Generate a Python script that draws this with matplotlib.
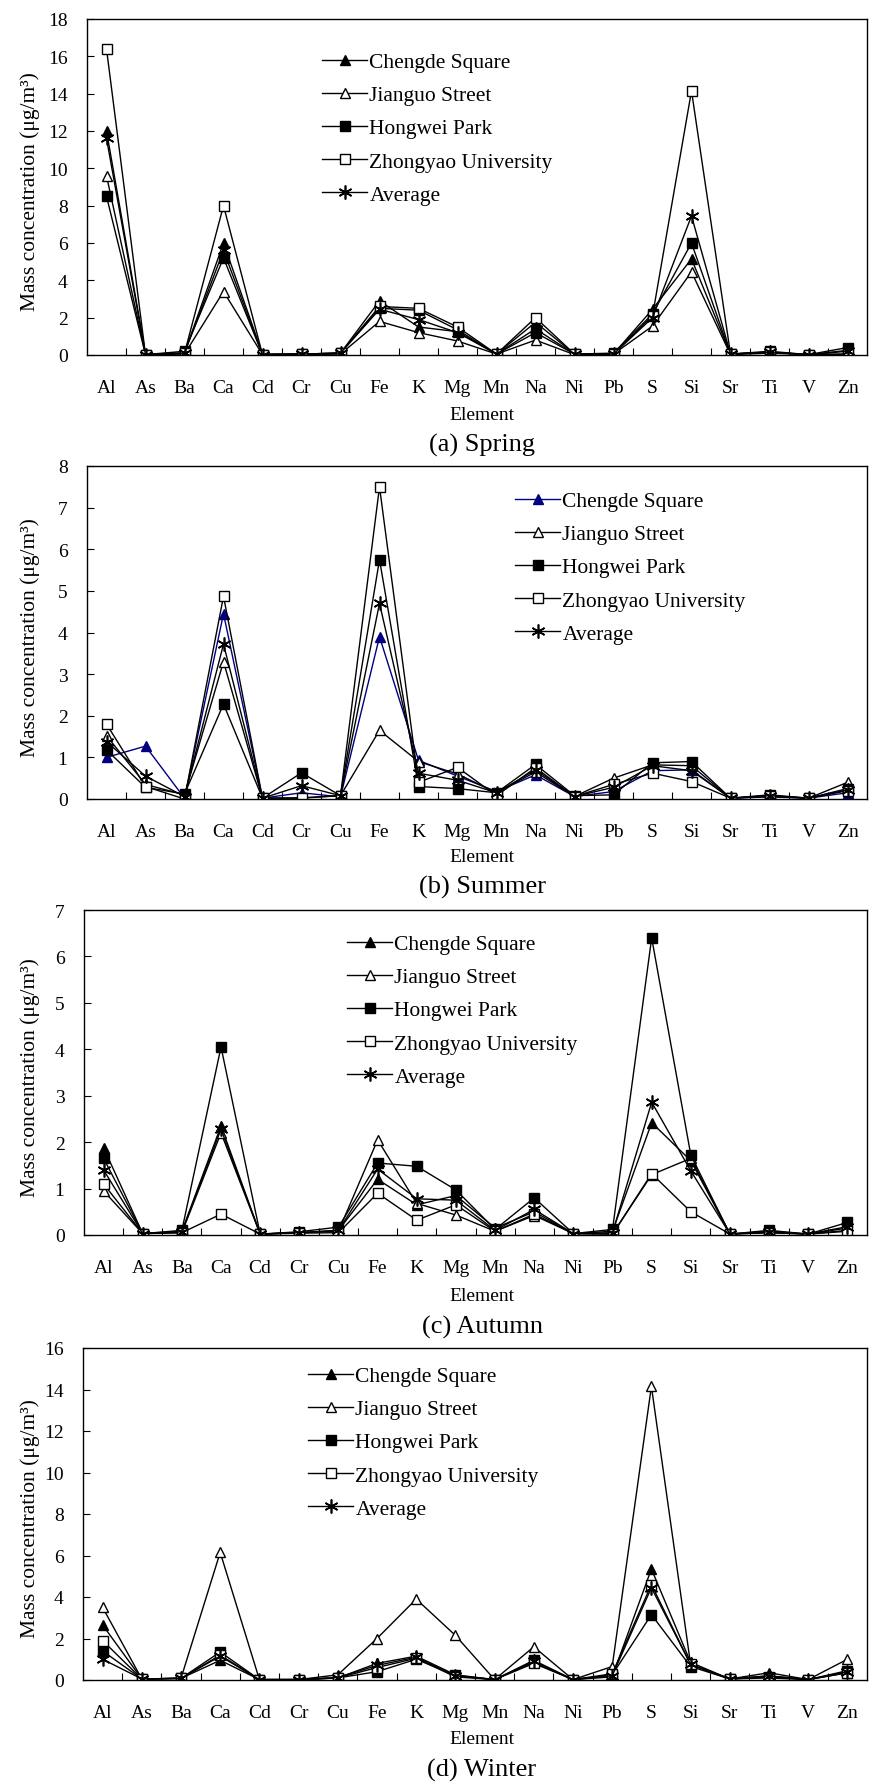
import matplotlib.pyplot as plt

plt.rcParams['font.family'] = ['Liberation Serif', 'DejaVu Serif']

elements = ["Al", "As", "Ba", "Ca", "Cd", "Cr", "Cu", "Fe", "K", "Mg",
            "Mn", "Na", "Ni", "Pb", "S", "Si", "Sr", "Ti", "V", "Zn"]
sites = ["Chengde Square", "Jianguo Street", "Hongwei Park", "Zhongyao University", "Average"]

# (a) Spring
spring_chengde = [12.0, 0.05, 0.1, 6.0, 0.05, 0.05, 0.1, 2.9, 1.5, 1.25, 0.05, 1.75, 0.05, 0.05, 2.45, 5.15, 0.05, 0.15, 0.02, 0.25]
spring_jianguo = [9.6, 0.02, 0.05, 3.4, 0.02, 0.02, 0.05, 1.8, 1.2, 0.75, 0.05, 0.8, 0.02, 0.05, 1.55, 4.45, 0.02, 0.1, 0.02, 0.05]
spring_hongwei = [8.5, 0.02, 0.2, 5.2, 0.02, 0.05, 0.1, 2.5, 2.4, 1.35, 0.05, 1.2, 0.05, 0.1, 2.2, 6.0, 0.05, 0.2, 0.02, 0.4]
spring_zhongyao = [16.4, 0.02, 0.1, 8.0, 0.02, 0.05, 0.1, 2.6, 2.5, 1.5, 0.05, 2.0, 0.05, 0.05, 2.1, 14.15, 0.05, 0.15, 0.02, 0.05]
spring_average = [11.6, 0.02, 0.1, 5.6, 0.02, 0.05, 0.1, 2.45, 1.9, 1.2, 0.05, 1.4, 0.05, 0.05, 2.0, 7.45, 0.05, 0.15, 0.02, 0.2]

# (b) Summer
summer_chengde = [1.0, 1.27, 0.02, 4.45, 0.02, 0.15, 0.05, 3.9, 0.93, 0.55, 0.18, 0.58, 0.06, 0.18, 0.68, 0.7, 0.02, 0.05, 0.02, 0.15]
summer_jianguo = [1.52, 0.35, 0.1, 3.3, 0.02, 0.03, 0.08, 1.65, 0.9, 0.6, 0.15, 0.65, 0.06, 0.5, 0.82, 0.8, 0.02, 0.06, 0.02, 0.4]
summer_hongwei = [1.18, 0.28, 0.12, 2.28, 0.02, 0.63, 0.08, 5.75, 0.3, 0.25, 0.15, 0.83, 0.08, 0.1, 0.87, 0.9, 0.02, 0.1, 0.02, 0.25]
summer_zhongyao = [1.8, 0.3, 0.0, 4.87, 0.02, 0.02, 0.08, 7.5, 0.4, 0.76, 0.08, 0.75, 0.06, 0.35, 0.62, 0.42, 0.02, 0.08, 0.02, 0.2]
summer_average = [1.38, 0.55, 0.06, 3.72, 0.02, 0.32, 0.08, 4.7, 0.62, 0.45, 0.15, 0.7, 0.06, 0.28, 0.8, 0.68, 0.02, 0.08, 0.02, 0.22]

# (c) Autumn
autumn_chengde = [1.88, 0.03, 0.08, 2.35, 0.02, 0.05, 0.1, 1.2, 0.65, 0.85, 0.15, 0.5, 0.03, 0.08, 2.42, 1.6, 0.02, 0.08, 0.02, 0.1]
autumn_jianguo = [0.95, 0.03, 0.05, 2.2, 0.02, 0.05, 0.08, 2.05, 0.68, 0.43, 0.08, 0.42, 0.03, 0.02, 1.3, 1.65, 0.02, 0.05, 0.02, 0.15]
autumn_hongwei = [1.65, 0.03, 0.1, 4.05, 0.02, 0.07, 0.17, 1.55, 1.48, 0.97, 0.12, 0.8, 0.03, 0.12, 6.4, 1.72, 0.02, 0.1, 0.02, 0.27]
autumn_zhongyao = [1.1, 0.03, 0.05, 0.45, 0.02, 0.04, 0.05, 0.9, 0.32, 0.65, 0.08, 0.45, 0.03, 0.02, 1.32, 0.5, 0.02, 0.05, 0.02, 0.08]
autumn_average = [1.4, 0.03, 0.07, 2.28, 0.02, 0.05, 0.1, 1.42, 0.78, 0.75, 0.1, 0.55, 0.03, 0.05, 2.86, 1.38, 0.02, 0.07, 0.02, 0.18]

# (d) Winter
winter_chengde = [2.65, 0.05, 0.08, 0.95, 0.02, 0.02, 0.1, 0.8, 1.15, 0.25, 0.02, 0.85, 0.02, 0.15, 5.35, 0.85, 0.05, 0.35, 0.02, 0.35]
winter_jianguo = [3.5, 0.05, 0.08, 6.15, 0.02, 0.02, 0.25, 2.0, 3.9, 2.15, 0.02, 1.6, 0.02, 0.65, 14.15, 0.75, 0.05, 0.2, 0.02, 1.0]
winter_hongwei = [1.4, 0.05, 0.08, 1.35, 0.02, 0.02, 0.1, 0.4, 1.0, 0.22, 0.02, 0.95, 0.02, 0.25, 3.15, 0.65, 0.05, 0.15, 0.02, 0.45]
winter_zhongyao = [1.9, 0.05, 0.08, 1.2, 0.02, 0.02, 0.1, 0.6, 1.05, 0.15, 0.02, 0.8, 0.02, 0.3, 4.6, 0.75, 0.05, 0.1, 0.02, 0.35]
winter_average = [1.0, 0.05, 0.08, 1.15, 0.02, 0.02, 0.12, 0.7, 1.1, 0.2, 0.02, 0.9, 0.02, 0.2, 4.45, 0.75, 0.05, 0.2, 0.02, 0.4]

W, H = 873, 1783
fig = plt.figure(figsize=(W / 100, H / 100), dpi=100)

# marker, facecolor (None = same as line), size
marker_styles = [("^", None, 7.5), ("^", "white", 7.5), ("s", None, 7), ("s", "white", 7), ((6, 2, 0), None, 10)]


def add_axes_px(left, top, right, bottom):
    return fig.add_axes([left / W, 1 - bottom / H, (right - left) / W, (bottom - top) / H])


def draw_panel(box, series, ymax, ystep, caption, leg_xy, label_ys, colors):
    ax = add_axes_px(*box)
    x = list(range(len(elements)))
    for vals, name, (m, fc, ms), c in zip(series, sites, marker_styles, colors):
        ax.plot(x, vals, color=c, lw=1.0, marker=m, markersize=ms,
                markerfacecolor=fc if fc else c, markeredgecolor=c,
                markeredgewidth=1.2 if fc is None and m not in ("^", "s") else 1.0,
                label=name)
    ax.set_xlim(-0.5, len(elements) - 0.5)
    ax.set_ylim(0, ymax)
    ax.set_yticks(range(0, ymax + 1, ystep))
    ax.set_xticks(x)
    ax.set_xticklabels(elements)
    ax.set_xticks([i + 0.5 for i in range(len(elements) - 1)], minor=True)
    ax.tick_params(axis="x", which="major", length=0, pad=17, labelsize=14)
    ax.tick_params(axis="x", which="minor", direction="in", length=5, width=0.8)
    ax.tick_params(axis="y", direction="in", length=5, width=0.8, pad=14, labelsize=14)
    for s in ax.spines.values():
        s.set_linewidth(1.0)

    top, bottom = box[1], box[3]
    fig.text(30 / W, 1 - ((top + bottom) / 2 + 4) / H, "Mass concentration (\u03bcg/m\u00b3)",
             rotation=90, ha="center", va="center", fontsize=15.5)
    fig.text(482 / W, 1 - label_ys[0] / H, "Element", ha="center", va="center", fontsize=14)
    fig.text(482 / W, 1 - label_ys[1] / H, caption, ha="center", va="center", fontsize=19)

    ax.legend(loc="upper left", bbox_to_anchor=(leg_xy[0] / W, 1 - leg_xy[1] / H),
              bbox_transform=fig.transFigure, frameon=False, fontsize=15.5,
              borderpad=0, borderaxespad=0, handlelength=2.1, handletextpad=0.1,
              labelspacing=0.61)
    return ax


black = ["black"] * 5
draw_panel((87, 20, 867, 356),
           [spring_chengde, spring_jianguo, spring_hongwei, spring_zhongyao, spring_average],
           18, 2, "(a) Spring", (322, 53), (415, 445), black)
draw_panel((87, 467, 867, 800),
           [summer_chengde, summer_jianguo, summer_hongwei, summer_zhongyao, summer_average],
           8, 1, "(b) Summer", (515, 492), (858, 887), ["#000080"] + ["black"] * 4)
draw_panel((84, 911, 867, 1236),
           [autumn_chengde, autumn_jianguo, autumn_hongwei, autumn_zhongyao, autumn_average],
           7, 1, "(c) Autumn", (347, 935), (1297, 1327), black)
draw_panel((83, 1349, 867, 1681),
           [winter_chengde, winter_jianguo, winter_hongwei, winter_zhongyao, winter_average],
           16, 2, "(d) Winter", (308, 1367), (1740, 1770), black)

fig.savefig("out.png", dpi=100)
